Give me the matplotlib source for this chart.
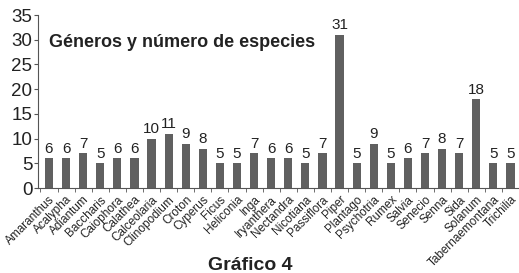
import matplotlib
matplotlib.use("Agg")
import matplotlib.pyplot as plt
import numpy as np

generos = ["Amaranthus", "Acalypha", "Adiantum", "Baccharis", "Caiophora", "Calathea",
           "Calceolaria", "Clinopodium", "Croton", "Cyperus", "Ficus", "Heliconia", "Inga",
           "Iryanthera", "Nectandra", "Nicotiana", "Passiflora", "Piper", "Plantago",
           "Psychotria", "Rumex", "Salvia", "Senecio", "Senna", "Sida", "Solanum",
           "Tabernaemontana", "Trichilia"]
especies = [6, 6, 7, 5, 6, 6, 10, 11, 9, 8, 5, 5, 7, 6, 6, 5, 7, 31, 5, 9, 5, 6, 7, 8, 7, 18, 5, 5]
yticks = [0, 5, 10, 15, 20, 25, 30, 35]

plt.rcParams['font.family'] = ['Liberation Sans', 'DejaVu Sans']
fig = plt.figure(figsize=(5.19, 2.73), dpi=100)
ax = fig.add_axes([0.073, 0.311, 0.927, 0.634])
x = np.arange(len(generos))
bars = ax.bar(x, especies, width=0.48, color='#606060')
for xi, v in zip(x, especies):
    ax.text(xi, v + 0.5, str(v), ha='center', va='bottom', fontsize=11, color='#222222')

ax.set_ylim(0, 35)
ax.set_xlim(-0.65, len(generos) - 0.6)
ax.set_yticks(yticks)
ax.tick_params(axis='y', labelsize=13.5, length=3, color='#555555', pad=1, labelcolor='#222222')
ax.set_xticks(x)
ax.set_xticklabels(generos, rotation=45, ha='right', rotation_mode='anchor', fontsize=8.5, color='#222222')
ax.tick_params(axis='x', which='major', length=0, pad=4)
ax.set_xticks(np.arange(len(generos) + 1) - 0.5, minor=True)
ax.tick_params(axis='x', which='minor', length=3, color='#555555')
for s in ['top', 'right']:
    ax.spines[s].set_visible(False)
for s in ['left', 'bottom']:
    ax.spines[s].set_color('#555555')

ax.text(0.0, 29.5, "Géneros y número de especies", fontsize=13, fontweight='bold',
        va='center', ha='left', color='#222222')
fig.text(0.482, 0.01, "Gráfico 4", fontsize=14, fontweight='bold', ha='center', va='baseline', color='#222222')
fig.savefig("out.png", dpi=100)
